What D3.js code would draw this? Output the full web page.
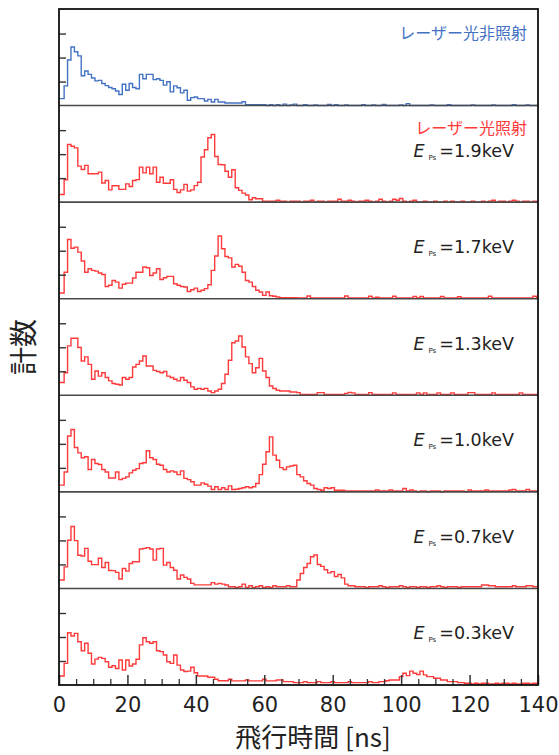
<!DOCTYPE html>
<html>
<head>
<meta charset="utf-8">
<script src="https://cdn.jsdelivr.net/npm/d3@7"></script>
<style>
  html, body { margin: 0; padding: 0; background: #fff; }
  svg { display: block; }
  .num { font-family: "DejaVu Sans", sans-serif; fill: #222; }
  .jp  { font-family: "Noto Sans CJK JP", sans-serif; }
</style>
</head>
<body>
<svg id="chart" width="559" height="755"></svg>
<script>
// Time-of-flight histograms, 1 ns bins centred on 0..140 ns, counts in tick units (tick = 10).
const X_TICKS = [0, 20, 40, 60, 80, 100, 120, 140];
const Y_TICKS = [10, 20, 30];

const noLaser = [2.9,2.9,8.2,19,24.4,22.4,20.7,12.4,14.4,13, 11.5,10.3,10.5,9.2,8.3,7.5,7,6.1,4.6,8.9,
  6.4,9.2,7.5,7,13,11.2,13,13,10.8,11.2, 10.5,8.5,9.9,5.7,8.2,7.4,5.3,6.4,2.2,3.3,
  3.6,2.9,2.9,1.9,2.6,1.5,2.6,1.5,1.5,1.1, 1.1,1.1,1.1,1.1,1.6,
  0.4,0.4,0.4,0.4,0.4,0.4,0,0.4,0,0.4, 0,0.6,0,0.3,0.6,0,0,0.4,0,0,
  0.3,0,0,0,0.5,0,0.4,0,0,0.3, 0,0,0,0,0.4,0,0,0.3,0,0,
  0.5,0,0,0,0,0.3,0,0.8,0,0, 0,0,0,0,0.3,0,0,0,0,0.4,
  0,0,0,0,0,0,0.3,0,0,0, 0,0,0.3,0,0,0,0,0,0.4,0, 0,0,0.3,0,0,0];

const eps19 = [3.2,3.2,9.3,24,23.3,22.6,15,13.6,15.3,11.8, 11.8,11.8,12.5,8,9,5.1,6.8,6.8,5.3,5.3,
  7.6,6.5,9,9.4,14.6,12.2,14.6,11.8,14.6,8.3, 10.4,7.9,7.9,9.3,5.3,4,5.1,7.4,4.6,5.1,
  6.9,8.3,18.8,21.8,26.8,28.2,19,15.7,15.6,12.9, 10.4,13.5,6,4.9,3.75,3,1,1.8,1.4,1.4,
  0.4,0.4,0.4,0.4,0.8,0.4,0.4,0,0.4,0.4, 0.4,0,0.4,0.4,0.8,0,0.4,0.4,0,0.4,
  0.4,0.4,1.2,0.4,0.4,0.8,0.4,0,0.4,0.4, 0.8,0.4,0,0.4,1.2,0.4,0,0.4,1.2,0.8,
  1.5,0.4,0,0.4,0.8,0,0,0.4,0,0, 0.4,0,0,0.4,0,0.4,0,0,0.4,0,
  0,0.4,0,0,0.4,0,0.4,0.8,0,0.4, 0.4,0,0.4,0.8,0.4,0,0.4,0.4,0,0.4, 0.4];

const eps17 = [2.4,2.4,11,24.7,21,21.5,19.4,15.7,11,12.5, 11.8,11.5,10.7,10.1,5.1,5.6,7.6,6.9,4.4,6,
  6.5,6.5,8.6,11,11,13.2,12.9,9.7,10.7,12.5, 8,8.75,9.3,9.3,6.25,5.6,5.1,4.9,3,3.75,
  4.4,3,3.5,4.2,5.8,11.8,17.8,26.1,20.8,17.6, 17,13.2,14.3,13.5,11,7.6,6.9,5.1,3.5,2.8,
  1.4,2.8,1.25,1,0.7, 0.4,0.4,0.4,0.4,0.4,0.3,0.3,0.3,1.1,0.3,
  0.3,0.3,0.3,0.3,0.3,0.3,0.3,0.3,0.3,1.1, 0.3,0.3,0.3,0.3,0.3,0.3,1,0.3,0.6,0.3,
  0.3,0.3,0.3,1,0.3,0.3,0.3,0.3,0.3,0.9, 0.3,0.9,0.3,0.3,0.3,0.3,0.3,0.9,0.3,0.3,
  0.3,0.3,0.8,0.3,0.3,0.3,0.3,0.3,0.3,0.3, 0.3,1,0.3,0.3,0.3,0.3,0.3,0.3,0.3,0.3, 0.3,0.3,0.3,0.3,1,0.3];

const eps13 = [5.3,5.3,9.4,20.6,23.75,23.75,19.9,14.3,16,12.9, 6.7,10.1,8,9.4,7.4,6,4.9,4.6,4.3,7.4,
  6.7,7.4,11.8,12.9,14.3,16.4,12.2,12.2,10.4,9.9, 9.4,9.9,8,7.4,6.7,6,7.4,6.25,5.3,3.5,
  2.5,2.9,2.5,2.9,1.8,1.1,1.8,2.5,4.9,8.75, 14.6,21.9,22.6,24.7,20.1,16,13.2,9.4,11.5,15.4,
  10.1,7.4,3.9,2.8,2.1,1.8,1.8,1.8,1.4,1.4,
  1.1,0.4,0.4,0.4,0.4,0.4,1.1,1.1,0.4,0.4, 0.4,0.4,0.4,0.4,0.8,1.2,1,0.4,0.4,0.4,
  0.4,1.1,0.4,0.4,0.4,0.4,0.4,0.4,1,0.4, 0.4,0.4,0.4,0.4,0.4,1,0.4,1,0.4,0.4,
  0.4,1,0.4,0.4,0.4,1,0.4,0.4,0.4,0.4, 1.1,1.1,0.4,0.4,0.4,0.4,0.4,1,0.4,0.4,
  0.4,0.4,0.4,0.4,0.4,1,0.4,0.4,0.4,0.4, 0.4];

const eps10 = [2.8,2.8,8.3,23.3,26,18.5,16.25,14.2,14.6,9.3, 13.5,11.8,11.4,9.3,8.3,5.8,5.8,8.3,5.1,5.6,
  6.25,7.9,9,9.7,11.8,12.1,17.1,14.2,13.5,11.5, 11.1,9.3,8.3,8.75,8.3,7.2,8.75,5.6,5.1,4.2,
  2.8,2.8,3.75,3.2,2.4,1,2.1,1,1.7,1, 2.5,1,1.1,1.4,1.7,2.1,1.7,2.1,3.5,7.2,
  11.5,16.7,22.9,15.3,13.2,10.1,9.3,10.4,10.8,11.1, 7.2,6.25,4.6,3.5,2.8,1.4,1,0.7,
  1.7,1.4,1.7,0.7,0.7,0.7,0.4,0.4,0.4,0.4, 0.4,0.4,0.4,0.4,0.4,0.8,0.4,0.4,0.4,0.8,
  0.4,0.4,0.4,1.4,0.4,0.8,0.4,0,0.4,0.4, 0,0.4,0.4,0.4,0,0.4,0.4,0.4,0.4,0.4,
  0.4,0,0.8,0.4,0.4,0.4,0.4,0.8,0.4,0.4, 0.4,0.4,0.4,0.4,0.8,1,0.4,0.4,0.4,1, 0.4,0.4,0.4];

const eps07 = [3.5,3.5,9,20.1,25.8,19.9,13.8,13.5,16.7,11.3, 9.9,9.9,12.6,8.75,10.8,7.5,7.4,6.7,3.9,8.3,
  7.2,10.4,11.1,11.1,16.4,16.7,17,16.4,11.8,16.4, 16.7,9.7,10.8,8.75,7.6,3.9,5.6,4.6,3.9,2.1,
  1.5,1.5,1.5,1.5,1.5,2.4,1.8,2.1,1.8,1.4, 0.7,0.7,0.4,0.7,1.8,0.4,1.1,0.4,0.7,1.1,
  0.4,0.7,0.4,1.1,0.7,0.7,0.7,1.1,0.7,0.7, 3.5,6.25,8.75,10.4,13.2,13.9,10,9.2,7.8,6.5,
  7,5,5.8,4.4,1.8,1.1,1.1,
  0.7,0.7,0.7,0.4,0.7,0.7,0.7,1.1,0.7,0.4, 0.7,0.7,0.7,1.1,0.7,0.4,0.7,0.7,0.4,0.7,
  0.7,0.4,0.7,0.7,1.1,0.7,0.4,0.7,0.7,0.7, 0.4,0.7,0.7,0.7,0.7,0.7,0.7,1.4,1.4,1.1,
  1.1,0.7,0.7,0.7,0.7,0.7,1.1,0.7,0.7,0.7, 1.1,1.1,0.7,0.7];

const eps03 = [3.75,3.75,9,21.8,20.4,21.5,18,14.3,17.4,13.2, 8.75,10.8,11.5,11.1,9.7,7.4,8,6.9,10.4,6.25,
  10.4,7.9,8.75,10.7,16.7,19.7,18,17.4,18,14.3, 13.9,12.5,9.7,9,12.5,8.3,6.25,5.6,5.8,7.4,
  5.1,3.75,3.75,3.75,3.2,3.2,2.4,1.8,1.8,1.8, 2.4,1.7,1.7,1.7,1.7,2.1,1.7,1.7,1.7,1.7,
  2.4,1.7,1.7,1.7,2.1,2.1,1.4,1.4,1.4,1, 1,1,1.4,1,1,1,1.4,1,1,1,
  1.4,1,1,1,1,1.4,1,1,1,1, 1,1.4,1,1,1.4,1.4,1.8,
  2.1,2.1,2.1,3.5,4.9,3.9,5.8,4.9,4.4,5.8, 4.2,3.5,3.5,2.8,2.8,2.1,2.1,1.4,1.4,1.4,
  1,1,0.7,0.7,0.4,0.7,0.4,0.7,0.7,0.4, 0.4,0.7,0.4,0.7,0.7,0.4,0.7,0.4,0.4,0.7, 0.7,0.4,0.7,0.7];

const SERIES = [noLaser, eps19, eps17, eps13, eps10, eps07, eps03];
const ENERGIES = [null, "1.9", "1.7", "1.3", "1.0", "0.7", "0.3"];
const BLUE = "#4472c4", RED = "#ff3a3a";

const svg = d3.select("#chart");
const L = 59, R = 538, T = 9, B = 685;
const N = SERIES.length, PH = (B - T) / N;

const x = d3.scaleLinear().domain([0, 140]).range([L, R]);

svg.append("defs").append("clipPath").attr("id", "plot")
  .append("rect").attr("x", L).attr("y", T).attr("width", R - L).attr("height", B - T);

const gPlot = svg.append("g").attr("clip-path", "url(#plot)");

SERIES.forEach((vals, i) => {
  const top = T + i * PH, bot = top + PH;
  const y = d3.scaleLinear().domain([0, 40]).range([bot, top + PH - 96]);
  // separator / baseline under the histogram
  if (i < N - 1)
    svg.append("line").attr("x1", L).attr("x2", R).attr("y1", bot).attr("y2", bot)
      .attr("stroke", "#4a4a4a").attr("stroke-width", 1.6);
  // inward y ticks
  svg.append("g").attr("transform", `translate(${L},0)`)
    .call(d3.axisRight(y).tickValues(Y_TICKS).tickSize(7).tickFormat(""))
    .call(g => g.select(".domain").remove())
    .call(g => g.selectAll("line").attr("stroke", "#333").attr("stroke-width", 1.4));
  // step histogram: bin n spans n-0.5 .. n+0.5
  const pts = vals.flatMap((v, n) => [[Math.max(0, n - 0.5), v], [Math.min(140, n + 0.5), v]]);
  gPlot.append("path").datum(pts)
    .attr("fill", "none").attr("stroke", i === 0 ? BLUE : RED)
    .attr("stroke-width", 1.4).attr("stroke-linejoin", "miter")
    .attr("d", d3.line().x(d => x(d[0])).y(d => y(d[1])));
  // labels
  if (i === 0) {
    svg.append("text").attr("class", "jp").attr("x", 527).attr("y", top + 30)
      .attr("text-anchor", "end").attr("font-size", 16).attr("fill", BLUE).text("レーザー光非照射");
  } else {
    if (i === 1)
      svg.append("text").attr("class", "jp").attr("x", 527).attr("y", top + 28)
        .attr("text-anchor", "end").attr("font-size", 16).attr("fill", RED).text("レーザー光照射");
    const t = svg.append("text").attr("class", "num").attr("x", 514).attr("y", top + 51)
      .attr("text-anchor", "end").attr("font-size", 17.5).attr("fill", "#333");
    t.append("tspan").attr("font-style", "italic").text("E");
    t.append("tspan").attr("font-size", 7).attr("dx", 4).attr("dy", 3).text("Ps");
    t.append("tspan").attr("dx", 3).attr("dy", -3).text(`=${ENERGIES[i]}keV`);
  }
});

// bottom axis: major ticks with labels, minor ticks every 5 ns, all pointing inward
svg.append("g").attr("transform", `translate(0,${B})`)
  .call(d3.axisBottom(x).tickValues(d3.range(0, 141, 5).filter(v => v % 20))
    .tickSizeInner(-6).tickSizeOuter(0).tickFormat(""))
  .call(g => g.select(".domain").remove())
  .call(g => g.selectAll("line").attr("stroke", "#333").attr("stroke-width", 1.3));
svg.append("g").attr("transform", `translate(0,${B})`)
  .call(d3.axisBottom(x).tickValues(X_TICKS).tickSizeInner(-10).tickSizeOuter(0).tickPadding(12))
  .call(g => g.select(".domain").remove())
  .call(g => g.selectAll("line").attr("stroke", "#333").attr("stroke-width", 1.5))
  .call(g => g.selectAll("text").attr("class", "num").attr("font-size", 21).attr("fill", "#222"));

// outer frame
svg.append("rect").attr("x", L).attr("y", T).attr("width", R - L).attr("height", B - T)
  .attr("fill", "none").attr("stroke", "#111").attr("stroke-width", 1.8);

// axis titles
svg.append("text").attr("class", "jp").attr("x", 313).attr("y", 747)
  .attr("text-anchor", "middle").attr("font-size", 26).attr("fill", "#222").text("飛行時間 [ns]");
svg.append("text").attr("class", "jp").attr("transform", "translate(34,347) rotate(-90)")
  .attr("text-anchor", "middle").attr("font-size", 28).attr("fill", "#222").text("計数");
</script>
</body>
</html>
